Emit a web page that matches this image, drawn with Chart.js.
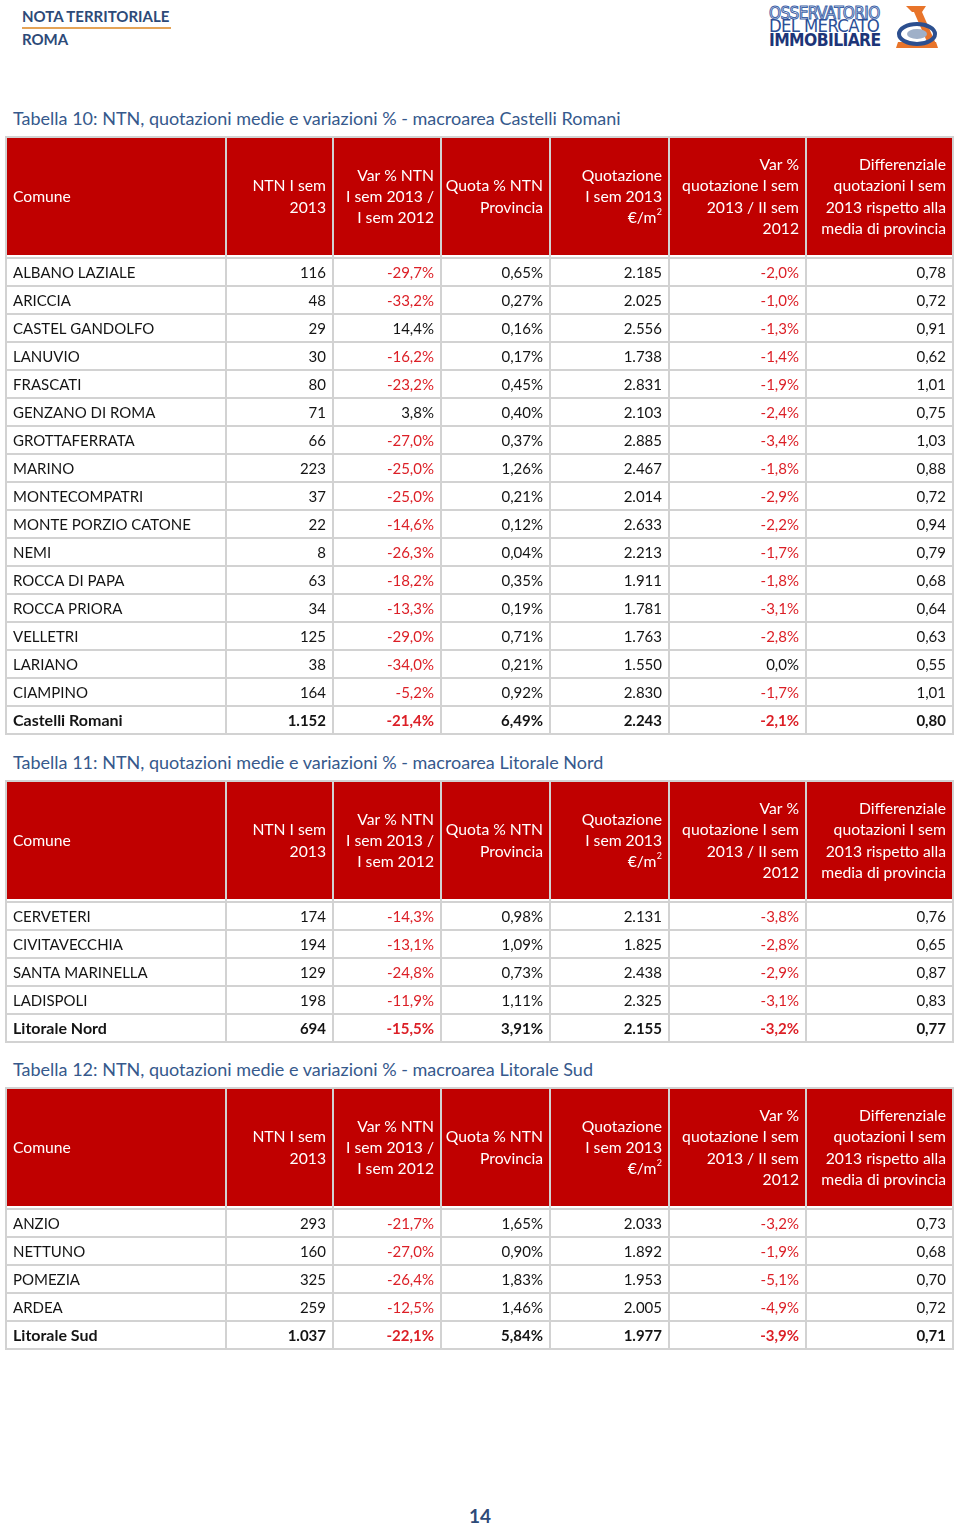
<!DOCTYPE html>
<html lang="it">
<head>
<meta charset="utf-8">
<title>Nota territoriale Roma - Tabelle 10-12</title>
<script src="https://cdn.jsdelivr.net/npm/chart.js@4.4.1/dist/chart.umd.min.js"></script>
<style>
  body { margin: 0; background: #fff; }
  #page { position: relative; width: 960px; height: 1525px; overflow: hidden; font-family: Lato, "Open Sans", sans-serif; }
  .nota { position: absolute; left: 22px; color: #2d4a78; font-weight: bold; font-size: 15px; line-height: 18px; }
  #nota1 { top: 7px; }
  #nota2 { top: 30px; }
  #notaLine { position: absolute; left: 22px; top: 27px; width: 149px; height: 2px; background: #e4a356; }
  .caption { position: absolute; left: 13px; font-size: 18px; line-height: 20px; color: #36598c; white-space: nowrap; }
  canvas.tab { position: absolute; left: 0; }
  #logo { position: absolute; left: 769px; top: 4px; width: 120px; height: 46px; }
  #logo div { position: absolute; left: 0; white-space: nowrap; transform-origin: 0 0; font-family: "DejaVu Sans Condensed", "DejaVu Sans", sans-serif; letter-spacing: -0.6px; line-height: 17px; }
  #pageNum { position: absolute; left: 0; width: 960px; top: 1504px; text-align: center; color: #2d4a78; font-weight: bold; font-size: 19px; }
</style>
</head>
<body>
<div id="page">
  <div class="nota" id="nota1">NOTA TERRITORIALE</div>
  <div id="notaLine"></div>
  <div class="nota" id="nota2">ROMA</div>

  <div id="logo">
    <div style="top:1px; font-size:17px; color:#fff; -webkit-text-stroke:1px #3d63a8; transform:scaleX(1.0);">OSSERVATORIO</div>
    <div style="top:14px; font-size:17px; color:#2b4f97; transform:scaleX(1.08);">DEL MERCATO</div>
    <div style="top:28px; font-size:17px; font-weight:bold; color:#1d3578; transform:scaleX(1.02);">IMMOBILIARE</div>
  </div>
  <svg style="position:absolute; left:892px; top:4px;" width="50" height="46" viewBox="0 0 50 46">
    <path d="M14 2 L34 2 L30 8 L20 8 Z" fill="#e8742a"/>
    <path d="M22 8 L30 8 L44 40 L36 40 Z" fill="#e8742a"/>
    <path d="M4 44 L46 44 L44 38 L6 38 Z" fill="#e8742a"/>
    <ellipse cx="25" cy="30" rx="18" ry="10" fill="none" stroke="#2c4f8f" stroke-width="4"/>
    <ellipse cx="25" cy="30" rx="10" ry="5" fill="#9fb0c8"/>
  </svg>

  <div class="caption" style="top:108px;">Tabella 10: NTN, quotazioni medie e variazioni % - macroarea Castelli Romani</div>
  <canvas class="tab" id="tab10"></canvas>

  <div class="caption" style="top:752px;">Tabella 11: NTN, quotazioni medie e variazioni % - macroarea Litorale Nord</div>
  <canvas class="tab" id="tab11"></canvas>

  <div class="caption" style="top:1059px;">Tabella 12: NTN, quotazioni medie e variazioni % - macroarea Litorale Sud</div>
  <canvas class="tab" id="tab12"></canvas>

  <div id="pageNum">14</div>
</div>

<script>
// --- dati tabella 10: Castelli Romani ---
const comuni10 = ['ALBANO LAZIALE', 'ARICCIA', 'CASTEL GANDOLFO', 'LANUVIO', 'FRASCATI', 'GENZANO DI ROMA',
  'GROTTAFERRATA', 'MARINO', 'MONTECOMPATRI', 'MONTE PORZIO CATONE', 'NEMI', 'ROCCA DI PAPA',
  'ROCCA PRIORA', 'VELLETRI', 'LARIANO', 'CIAMPINO', 'Castelli Romani'];
const ntn10 = [116, 48, 29, 30, 80, 71, 66, 223, 37, 22, 8, 63, 34, 125, 38, 164, 1152];
const varNtn10 = [-29.7, -33.2, 14.4, -16.2, -23.2, 3.8, -27.0, -25.0, -25.0, -14.6, -26.3, -18.2, -13.3, -29.0, -34.0, -5.2, -21.4];
const quota10 = [0.65, 0.27, 0.16, 0.17, 0.45, 0.40, 0.37, 1.26, 0.21, 0.12, 0.04, 0.35, 0.19, 0.71, 0.21, 0.92, 6.49];
const quotazione10 = [2185, 2025, 2556, 1738, 2831, 2103, 2885, 2467, 2014, 2633, 2213, 1911, 1781, 1763, 1550, 2830, 2243];
const varQuot10 = [-2.0, -1.0, -1.3, -1.4, -1.9, -2.4, -3.4, -1.8, -2.9, -2.2, -1.7, -1.8, -3.1, -2.8, 0.0, -1.7, -2.1];
const diff10 = [0.78, 0.72, 0.91, 0.62, 1.01, 0.75, 1.03, 0.88, 0.72, 0.94, 0.79, 0.68, 0.64, 0.63, 0.55, 1.01, 0.80];

// --- dati tabella 11: Litorale Nord ---
const comuni11 = ['CERVETERI', 'CIVITAVECCHIA', 'SANTA MARINELLA', 'LADISPOLI', 'Litorale Nord'];
const ntn11 = [174, 194, 129, 198, 694];
const varNtn11 = [-14.3, -13.1, -24.8, -11.9, -15.5];
const quota11 = [0.98, 1.09, 0.73, 1.11, 3.91];
const quotazione11 = [2131, 1825, 2438, 2325, 2155];
const varQuot11 = [-3.8, -2.8, -2.9, -3.1, -3.2];
const diff11 = [0.76, 0.65, 0.87, 0.83, 0.77];

// --- dati tabella 12: Litorale Sud ---
const comuni12 = ['ANZIO', 'NETTUNO', 'POMEZIA', 'ARDEA', 'Litorale Sud'];
const ntn12 = [293, 160, 325, 259, 1037];
const varNtn12 = [-21.7, -27.0, -26.4, -12.5, -22.1];
const quota12 = [1.65, 0.90, 1.83, 1.46, 5.84];
const quotazione12 = [2033, 1892, 1953, 2005, 1977];
const varQuot12 = [-3.2, -1.9, -5.1, -4.9, -3.9];
const diff12 = [0.73, 0.68, 0.70, 0.72, 0.71];

// intestazioni colonne (righe di testo)
const intestazioni = [
  ['Comune'],
  ['NTN I sem', '2013'],
  ['Var % NTN', 'I sem 2013 /', 'I sem 2012'],
  ['Quota % NTN', 'Provincia'],
  ['Quotazione', 'I sem 2013', '€/m^2'],
  ['Var %', 'quotazione I sem', '2013 / II sem', '2012'],
  ['Differenziale', 'quotazioni I sem', '2013 rispetto alla', 'media di provincia']
];

// layout: bordi colonne in px dal bordo sinistro tabella
const colEdges = [0, 220, 327, 435, 544, 663, 800, 947];
const TAB_W = 947;
const HEAD_H = 118;
const GAP = 3;
const ROW_H = 28;
const FONT = 'Lato, "Open Sans", sans-serif';

function fmtInt(n) {
  return String(n).replace(/\B(?=(\d{3})+(?!\d))/g, '.');
}
function fmtDec(n, d) {
  return n.toFixed(d).replace('.', ',');
}

function drawTable(id, top, comuni, ntn, varNtn, quota, quotazione, varQuot, diff) {
  const canvas = document.getElementById(id);
  const h = 2 + HEAD_H + GAP + comuni.length * ROW_H + 2;
  canvas.width = 960;
  canvas.height = h;
  canvas.style.top = (top - 2) + 'px';

  const celle = comuni.map((c, i) => [
    c,
    fmtInt(ntn[i]),
    fmtDec(varNtn[i], 1) + '%',
    fmtDec(quota[i], 2) + '%',
    fmtInt(quotazione[i]),
    fmtDec(varQuot[i], 1) + '%',
    fmtDec(diff[i], 2)
  ]);
  const negativi = comuni.map((c, i) => [false, false, varNtn[i] < 0, false, false, varQuot[i] < 0, false]);

  const tabella = {
    id: 'tabella',
    afterDraw(chart) {
      const { ctx, scales: { x, y } } = chart;
      const n = comuni.length;
      const left = x.getPixelForValue(0);
      const right = x.getPixelForValue(TAB_W);
      const rowsTop = y.getPixelForValue(0) - ROW_H / 2;
      const rowsBottom = y.getPixelForValue(n - 1) + ROW_H / 2;
      const headBottom = rowsTop - GAP;
      const headTop = headBottom - HEAD_H;

      ctx.save();
      // header
      ctx.fillStyle = '#c00000';
      ctx.fillRect(left, headTop, right - left, HEAD_H);

      // linee
      ctx.strokeStyle = '#d2d2d2';
      ctx.lineWidth = 2;
      ctx.beginPath();
      ctx.moveTo(left, headTop); ctx.lineTo(right, headTop);
      for (let k = 0; k <= n; k++) {
        const yy = rowsTop + k * ROW_H;
        ctx.moveTo(left, yy); ctx.lineTo(right, yy);
      }
      colEdges.forEach(e => {
        const xx = x.getPixelForValue(e);
        ctx.moveTo(xx, headTop - 1); ctx.lineTo(xx, rowsBottom + 1);
      });
      ctx.stroke();

      // testo intestazione
      ctx.fillStyle = '#ffffff';
      ctx.textBaseline = 'middle';
      const lh = 21.3;
      const mid = headTop + HEAD_H / 2 + 1;
      intestazioni.forEach((righe, j) => {
        const y0 = mid - (righe.length - 1) * lh / 2;
        righe.forEach((t, r) => {
          const yy = y0 + r * lh;
          ctx.font = '15.7px ' + FONT;
          if (j === 0) {
            ctx.textAlign = 'left';
            ctx.fillText(t, x.getPixelForValue(colEdges[0]) + 7, yy);
            return;
          }
          let xr = x.getPixelForValue(colEdges[j + 1]) - 7;
          ctx.textAlign = 'right';
          if (t.includes('^')) {
            const [base, sup] = t.split('^');
            ctx.font = '9px ' + FONT;
            ctx.fillText(sup, xr, yy - 6);
            xr -= ctx.measureText(sup).width + 0.5;
            ctx.font = '15.7px ' + FONT;
            ctx.fillText(base, xr, yy);
          } else {
            ctx.fillText(t, xr, yy);
          }
        });
      });

      // celle
      celle.forEach((riga, i) => {
        const yy = y.getPixelForValue(i) + 1;
        const totale = i === n - 1;
        riga.forEach((t, j) => {
          ctx.fillStyle = negativi[i][j] ? '#dc1f26' : '#141414';
          if (j === 0) {
            ctx.font = totale ? 'bold 16px ' + FONT : '15px ' + FONT;
            ctx.textAlign = 'left';
            ctx.fillText(t, x.getPixelForValue(colEdges[0]) + 7, yy);
          } else {
            ctx.font = (totale ? 'bold ' : '') + '15px ' + FONT;
            ctx.textAlign = 'right';
            ctx.fillText(t, x.getPixelForValue(colEdges[j + 1]) - 7, yy);
          }
        });
      });
      ctx.restore();
    }
  };

  return new Chart(canvas.getContext('2d'), {
    type: 'bar',
    data: { labels: comuni, datasets: [] },
    options: {
      responsive: false,
      animation: false,
      devicePixelRatio: 1,
      indexAxis: 'y',
      layout: { padding: { left: 6, right: 960 - 6 - TAB_W, top: 2 + HEAD_H + GAP, bottom: 2 } },
      plugins: { legend: { display: false }, tooltip: { enabled: false } },
      scales: {
        x: { type: 'linear', min: 0, max: TAB_W, display: false },
        y: { type: 'category', offset: true, display: false }
      }
    },
    plugins: [tabella]
  });
}

drawTable('tab10', 137, comuni10, ntn10, varNtn10, quota10, quotazione10, varQuot10, diff10);
drawTable('tab11', 781, comuni11, ntn11, varNtn11, quota11, quotazione11, varQuot11, diff11);
drawTable('tab12', 1088, comuni12, ntn12, varNtn12, quota12, quotazione12, varQuot12, diff12);
</script>
</body>
</html>
